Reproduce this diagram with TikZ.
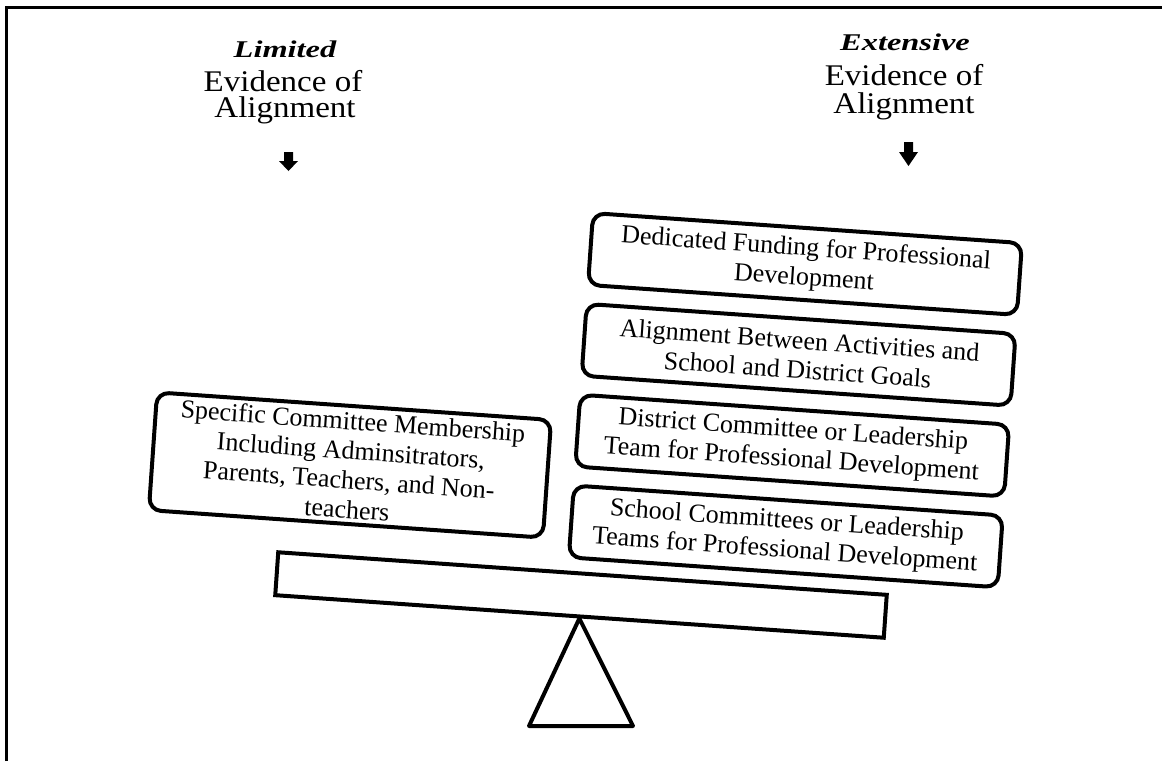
\documentclass[tikz,border=0pt]{standalone}
\usepackage{fontspec}
\setmainfont{Liberation Serif}
\newfontfamily\hdfont[FakeStretch=1.1]{Liberation Serif}
\newfontfamily\hdbi[FakeStretch=1.35]{Liberation Serif}
\tikzset{
  rbox/.style={draw, line width=4pt, rounded corners=12pt, rotate=-4,
    align=center, inner sep=0pt, font=\fontsize{26}{29.5}\selectfont},
  rboxR/.style={rbox, minimum width=430pt, minimum height=72pt},
  hdmain/.style={anchor=base, inner sep=0pt, font=\hdfont\fontsize{30}{33}\selectfont},
  hdemph/.style={anchor=base, inner sep=0pt, font=\hdbi\bfseries\itshape\fontsize{24}{28}\selectfont},
  beamstyle/.style={draw, line width=4pt, rotate=-4, inner sep=0pt,
    minimum width=610pt, minimum height=43pt},
  fulcrum/.style={draw, line width=4pt, line join=round},
  framestyle/.style={draw, line width=3pt},
  hdarrow/.style={fill=black}
}
\begin{document}
\begin{tikzpicture}[x=1pt,y=-1pt]
\useasboundingbox (0,0) rectangle (1162,761);
% frame
\draw[framestyle] (6,761) -- (6,7) -- (1162,7);
% headers
\node[hdemph] (limA) at (285,57) {Limited};
\node[hdmain] (limB) at (283,91) {Evidence of};
\node[hdmain] (limC) at (285,117) {Alignment};
\node[hdemph] (extA) at (905,50) {Extensive};
\node[hdmain] (extB) at (904,85) {Evidence of};
\node[hdmain] (extC) at (904,113) {Alignment};
% header arrows
\fill[hdarrow] (284,152) -- (293,152) -- (293,161) -- (298,161) -- (288.5,171)
  -- (279,161) -- (284,161) -- cycle;
\fill[hdarrow] (904,142) -- (913,142) -- (913,152) -- (918,152) -- (908.5,166)
  -- (899,152) -- (904,152) -- cycle;
% right stack
\node[rboxR] (b1) at (805,264) {Dedicated Funding for Professional\\Development};
\node[rboxR] (b2) at (798.6,354.8) {Alignment Between Activities and\\School and District Goals};
\node[rboxR] (b3) at (792.2,445.6) {District Committee or Leadership\\Team for Professional Development};
\node[rboxR] (b4) at (785.8,536.4) {School Committees or Leadership\\Teams for Professional Development};
% left box
\node[rbox, minimum width=395pt, minimum height=118pt] (lb) at (350,465)
  {Specific Committee Membership\\Including Adminsitrators,\\Parents, Teachers, and Non-\\teachers};
% beam and fulcrum
\node[beamstyle] (beam) at (581,595) {};
\coordinate (fl) at (529,726);
\coordinate (fr) at (633,726);
\draw[fulcrum] (beam.south) -- (fr) -- (fl) -- cycle;
\end{tikzpicture}
\end{document}
